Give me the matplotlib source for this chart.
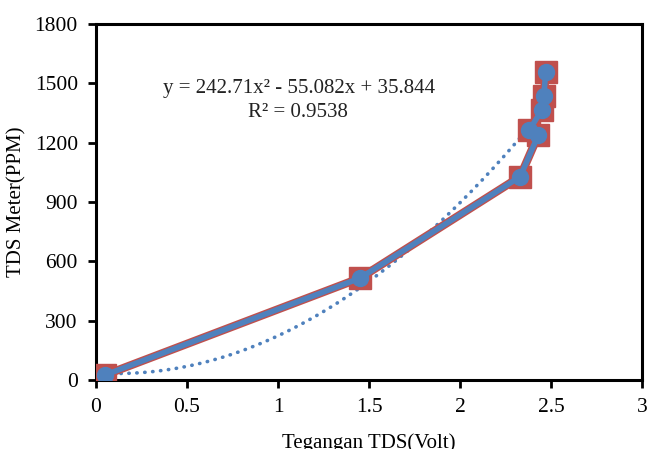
import numpy as np
import matplotlib
matplotlib.use('agg')
import matplotlib.pyplot as plt

# measured data (volt vs ppm)
volt = [0.05, 1.45, 2.33, 2.43, 2.38, 2.45, 2.46, 2.47]
ppm = [25, 515, 1028, 1240, 1265, 1365, 1435, 1555]

# trendline from the chart's displayed equation
coef = [242.71, -55.082, 35.844]
trend_range = [0.05, 2.33]

xticks = [0, 0.5, 1, 1.5, 2, 2.5, 3]
xticklabels = ['0', '0.5', '1', '1.5', '2', '2.5', '3']
yticks = [0, 300, 600, 900, 1200, 1500, 1800]

plt.rcParams['font.family'] = ['Liberation Serif', 'DejaVu Serif']

fig = plt.figure(figsize=(6.48, 4.49), dpi=100)
ax = fig.add_axes([0.148, 0.1537, 0.843, 0.7928])

# trendline (dotted)
xt = np.linspace(trend_range[0], trend_range[1], 200)
ax.plot(xt, np.polyval(coef, xt), color='#4F81BD', lw=2.6, ls=(0, (0.1, 2.1)),
        dash_capstyle='round', zorder=2)

# red series underneath, blue on top
ax.plot(volt, ppm, color='#C0504D', lw=6, marker='s', ms=15.5,
        mec='#C0504D', mfc='#C0504D', zorder=3)
ax.plot(volt, ppm, color='#4F81BD', lw=4, marker='o', ms=11.5,
        mec='#4F81BD', mfc='#4F81BD', zorder=4)

ax.set_xlim(0, 3)
ax.set_ylim(0, 1800)
ax.set_xticks(xticks)
ax.set_xticklabels(xticklabels)
ax.set_yticks(yticks)
ax.tick_params(direction='out', length=6, width=2, labelsize=15.5)
ax.tick_params(axis='x', pad=7)
ax.tick_params(axis='y', pad=7)
for s in ax.spines.values():
    s.set_linewidth(2.2)

ax.set_xlabel('Tegangan TDS(Volt)', fontsize=15, labelpad=12)
ax.set_ylabel('TDS Meter(PPM)', fontsize=15, labelpad=6)

ax.text(0.37, 1472, 'y = 242.71x² - 55.082x + 35.844', fontsize=15,
        color='#222222', va='center', ha='left')
ax.text(1.11, 1351, 'R² = 0.9538', fontsize=15, color='#222222',
        va='center', ha='center')

fig.savefig('out.png', dpi=100)
